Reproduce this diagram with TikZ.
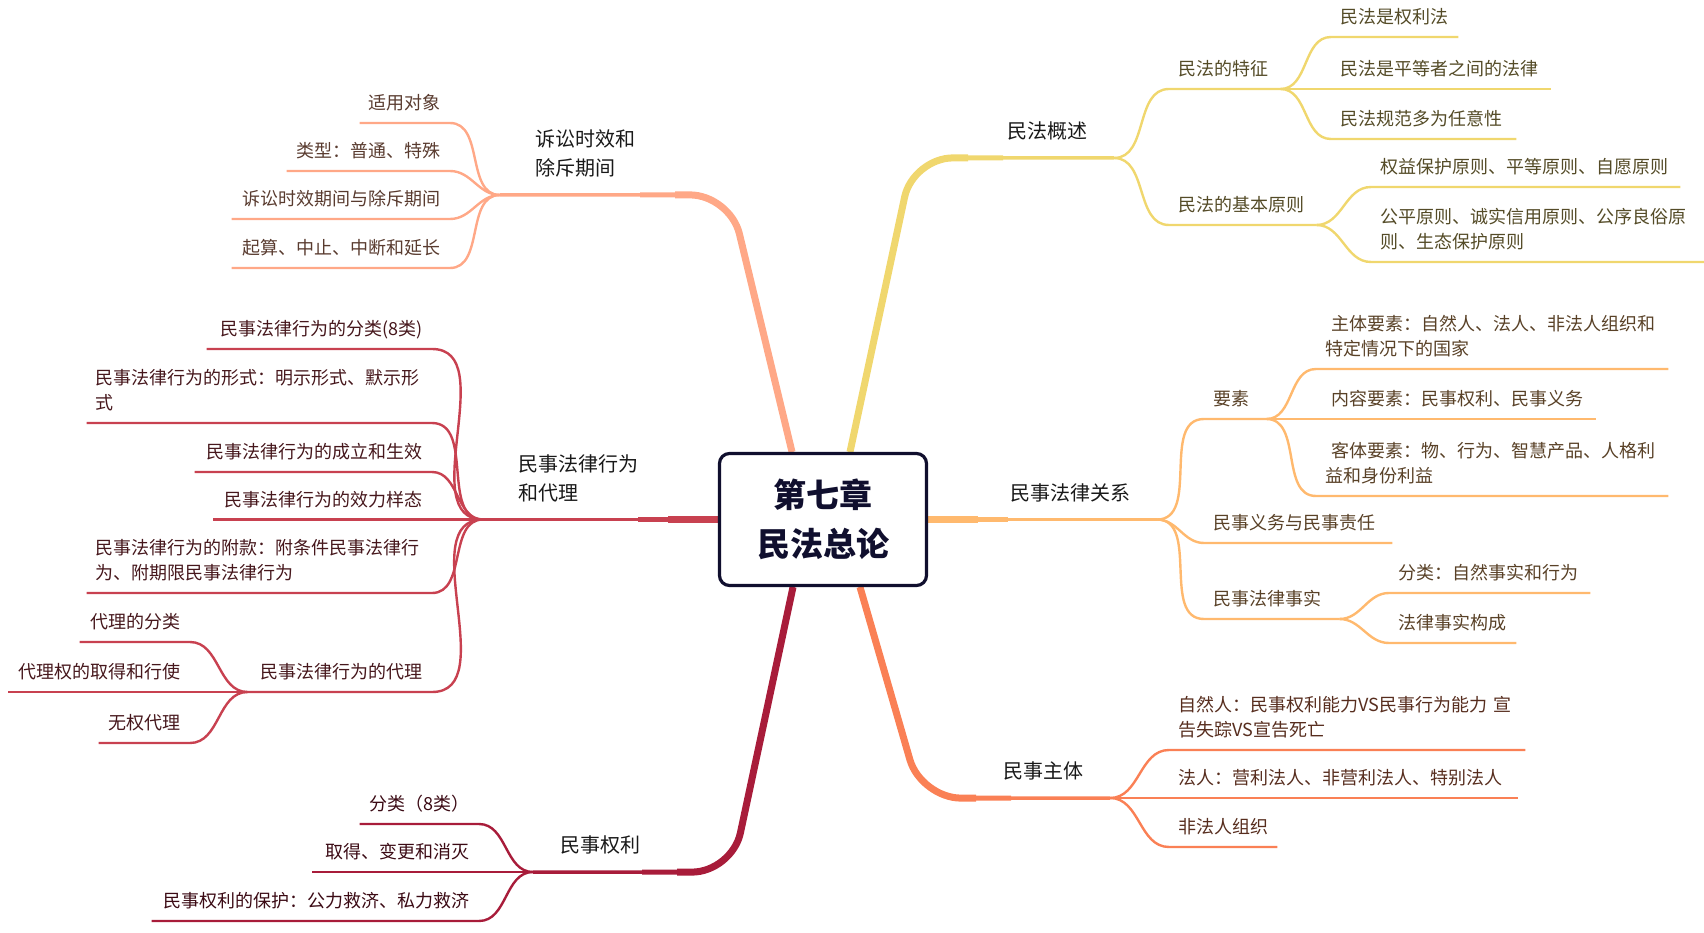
\documentclass[tikz,border=0pt]{standalone}
\usepackage{fontspec}
\setmainfont{Noto Sans CJK SC}
\usetikzlibrary{backgrounds}
\definecolor{rootc}{HTML}{100F2E}
\definecolor{brY}{HTML}{F0D76E}
\definecolor{brO}{HTML}{FFB96E}
\definecolor{brC}{HTML}{FA8055}
\definecolor{brS}{HTML}{FFA887}
\definecolor{brR}{HTML}{C84150}
\definecolor{brM}{HTML}{A81C3A}
\newcommand\dstrut{\vrule width 0pt height 12pt depth 6pt}

\begin{document}
\begin{tikzpicture}[x=1pt,y=-1pt,
    hub/.style={draw=rootc,line width=3.2pt,rounded corners=10pt,fill=white,text=rootc,
                minimum width=207pt,minimum height=132pt,align=center,
                font=\fontsize{33}{49}\selectfont\bfseries},
    lvr/.style={anchor=south east,inner xsep=26pt,inner ysep=13pt,align=right,
                font=\fontsize{20}{29}\selectfont,text=black!90,execute at end node=\dstrut},
    lvl/.style={lvr,anchor=south west,inner xsep=35pt,align=left},
    lfr/.style={anchor=south west,inner xsep=9pt,inner ysep=7pt,align=left,text=#1!35!black,
                font=\fontsize{18}{25}\selectfont,execute at end node=\dstrut},
    lfl/.style={lfr=#1,anchor=south east,align=right},
    trunk/.style={draw=#1,line width=3.5pt,rounded corners=40pt},
    stem/.style={draw=#1,line width=7pt,rounded corners=40pt},
    midstem/.style={draw=#1,line width=5pt,rounded corners=40pt},
    twig/.style={draw=#1,line width=2.4pt}]
  \useasboundingbox (0,0) rectangle (1704,933);

  \node[hub] (root) at (823,519.5) {第七章\\民法总论};

  % main topics
  \node[lvr,text width=80pt]  (g1) at (1114,158)   {民法概述};
  \node[lvr,text width=120pt] (g2) at (1157,519.5) {民事法律关系};
  \node[lvr,text width=80pt]  (g3) at (1110,798)   {民事主体};
  \node[lvl,text width=100pt] (g4) at (500,195)    {诉讼时效和\\除斥期间};
  \node[lvl,text width=120pt] (g5) at (483,519.5)  {民事法律行为\\和代理};
  \node[lvl,text width=80pt,inner xsep=27pt] (g6) at (533,872) {民事权利};

  % 民法概述
  \node[lfr=brY,text width=93pt]  (a1)  at (1169,89)  {民法的特征};
  \node[lfr=brY,text width=109pt] (a11) at (1331,37)  {民法是权利法};
  \node[lfr=brY,text width=202pt] (a12) at (1331,89)  {民法是平等者之间的法律};
  \node[lfr=brY,text width=167pt] (a13) at (1331,139) {民法规范多为任意性};
  \node[lfr=brY,text width=129pt] (a2)  at (1169,225) {民法的基本原则};
  \node[lfr=brY,text width=291pt] (a21) at (1371,187) {权益保护原则、平等原则、自愿原则};
  \node[lfr=brY,text width=315pt] (a22) at (1371,262) {公平原则、诚实信用原则、公序良俗原\\则、生态保护原则};

  % 民事法律关系
  \node[lfr=brO,text width=44pt]  (b1)  at (1204,419) {要素};
  \node[lfr=brO,text width=334pt] (b11) at (1316,369) {\hspace*{6pt}主体要素：自然人、法人、非法人组织和\\特定情况下的国家};
  \node[lfr=brO,text width=262pt] (b12) at (1316,419) {\hspace*{6pt}内容要素：民事权利、民事义务};
  \node[lfr=brO,text width=334pt] (b13) at (1316,496) {\hspace*{6pt}客体要素：物、行为、智慧产品、人格利\\益和身份利益};
  \node[lfr=brO,text width=170pt] (b2)  at (1204,543) {民事义务与民事责任};
  \node[lfr=brO,text width=117pt] (b3)  at (1204,619) {民事法律事实};
  \node[lfr=brO,text width=183pt] (b31) at (1389,593) {分类：自然事实和行为};
  \node[lfr=brO,text width=109pt] (b32) at (1389,643) {法律事实构成};

  % 民事主体
  \node[lfr=brC,text width=338pt] (c1) at (1169,750) {自然人：民事权利能力VS民事行为能力~宣\\告失踪VS宣告死亡};
  \node[lfr=brC,text width=331pt] (c2) at (1169,798) {法人：营利法人、非营利法人、特别法人};
  \node[lfr=brC,text width=90pt]  (c3) at (1169,847) {非法人组织};

  % 诉讼时效和除斥期间
  \node[lfl=brS,text width=72pt]  (d1) at (450,123) {适用对象};
  \node[lfl=brS,text width=145pt] (d2) at (450,171) {类型：普通、特殊};
  \node[lfl=brS,text width=200pt] (d3) at (450,219) {诉讼时效期间与除斥期间};
  \node[lfl=brS,text width=200pt] (d4) at (450,268) {起算、中止、中断和延长};

  % 民事法律行为和代理
  \node[lfl=brR,text width=207pt] (e1) at (432,349) {民事法律行为的分类(8类)};
  \node[lfl=brR,text width=327pt,align=left] (e2) at (432,423) {民事法律行为的形式：明示形式、默示形\\式};
  \node[lfl=brR,text width=219pt] (e3) at (432,472)   {民事法律行为的成立和生效};
  \node[lfl=brR,text width=201pt] (e4) at (432,519.5) {民事法律行为的效力样态};
  \node[lfl=brR,text width=327pt,align=left] (e5) at (432,593) {民事法律行为的附款：附条件民事法律行\\为、附期限民事法律行为};
  \node[lfl=brR,text width=166pt] (e6)  at (432,692) {民事法律行为的代理};
  \node[lfl=brR,text width=92pt]  (e61) at (190,642) {代理的分类};
  \node[lfl=brR,text width=164pt] (e62) at (190,692) {代理权的取得和行使};
  \node[lfl=brR,text width=73pt]  (e63) at (190,743) {无权代理};

  % 民事权利
  \node[lfl=brM,text width=101pt] (f1) at (479,824) {分类（8类）};
  \node[lfl=brM,text width=149pt] (f2) at (479,872) {取得、变更和消灭};
  \node[lfl=brM,text width=309pt] (f3) at (479,921) {民事权利的保护：公力救济、私力救济};

  \begin{scope}[on background layer]
    % trunks from the chapter box
    \draw[trunk=brY]   ([xshift=27pt]root.north) -- ++(63,-294) -- (g1.south east);
    \draw[midstem=brY] ([xshift=27pt]root.north) -- ++(63,-294) -- ++(90,0);
    \draw[stem=brY]    ([xshift=27pt]root.north) -- ++(63,-294) -- ++(55,0);
    \draw[trunk=brO]   (root.east) -- (g2.south east);
    \draw[midstem=brO] (root.east) -- ++(80,0);
    \draw[stem=brO]    (root.east) -- ++(50,0);
    \draw[trunk=brC]   ([xshift=37pt]root.south) -- ++(61,211) -- (g3.south east);
    \draw[midstem=brC] ([xshift=37pt]root.south) -- ++(61,211) -- ++(90,0);
    \draw[stem=brC]    ([xshift=37pt]root.south) -- ++(61,211) -- ++(55,0);
    \draw[trunk=brS]   ([xshift=-31pt]root.north) -- ++(-62,-257) -- (g4.south west);
    \draw[midstem=brS] ([xshift=-31pt]root.north) -- ++(-62,-257) -- ++(-90,0);
    \draw[stem=brS]    ([xshift=-31pt]root.north) -- ++(-62,-257) -- ++(-55,0);
    \draw[trunk=brR]   (root.west) -- (g5.south west);
    \draw[midstem=brR] (root.west) -- ++(-80,0);
    \draw[stem=brR]    (root.west) -- ++(-50,0);
    \draw[trunk=brM]   ([xshift=-30pt]root.south) -- ++(-61,285) -- (g6.south west);
    \draw[midstem=brM] ([xshift=-30pt]root.south) -- ++(-61,285) -- ++(-90,0);
    \draw[stem=brM]    ([xshift=-30pt]root.south) -- ++(-61,285) -- ++(-55,0);

    % right side
    \draw[twig=brY] (g1.south east) to[out=0,in=180] (a1.south west) -- (a1.south east);
    \draw[twig=brY] (g1.south east) to[out=0,in=180] (a2.south west) -- (a2.south east);
    \draw[twig=brY] (a1.south east) to[out=0,in=180] (a11.south west) -- (a11.south east);
    \draw[twig=brY] (a1.south east) to[out=0,in=180] (a12.south west) -- (a12.south east);
    \draw[twig=brY] (a1.south east) to[out=0,in=180] (a13.south west) -- (a13.south east);
    \draw[twig=brY] (a2.south east) to[out=0,in=180] (a21.south west) -- (a21.south east);
    \draw[twig=brY] (a2.south east) to[out=0,in=180] (a22.south west) -- (a22.south east);
    \draw[twig=brO] (g2.south east) to[out=0,in=180] (b1.south west) -- (b1.south east);
    \draw[twig=brO] (g2.south east) to[out=0,in=180] (b2.south west) -- (b2.south east);
    \draw[twig=brO] (g2.south east) to[out=0,in=180] (b3.south west) -- (b3.south east);
    \draw[twig=brO] (b1.south east) to[out=0,in=180] (b11.south west) -- (b11.south east);
    \draw[twig=brO] (b1.south east) to[out=0,in=180] (b12.south west) -- (b12.south east);
    \draw[twig=brO] (b1.south east) to[out=0,in=180] (b13.south west) -- (b13.south east);
    \draw[twig=brO] (b3.south east) to[out=0,in=180] (b31.south west) -- (b31.south east);
    \draw[twig=brO] (b3.south east) to[out=0,in=180] (b32.south west) -- (b32.south east);
    \draw[twig=brC] (g3.south east) to[out=0,in=180] (c1.south west) -- (c1.south east);
    \draw[twig=brC] (g3.south east) to[out=0,in=180] (c2.south west) -- (c2.south east);
    \draw[twig=brC] (g3.south east) to[out=0,in=180] (c3.south west) -- (c3.south east);

    % left side
    \draw[twig=brS] (g4.south west) to[out=180,in=0] (d1.south east) -- (d1.south west);
    \draw[twig=brS] (g4.south west) to[out=180,in=0] (d2.south east) -- (d2.south west);
    \draw[twig=brS] (g4.south west) to[out=180,in=0] (d3.south east) -- (d3.south west);
    \draw[twig=brS] (g4.south west) to[out=180,in=0] (d4.south east) -- (d4.south west);
    \draw[twig=brR] (g5.south west) to[out=180,in=0] (e1.south east) -- (e1.south west);
    \draw[twig=brR] (g5.south west) to[out=180,in=0] (e2.south east) -- (e2.south west);
    \draw[twig=brR] (g5.south west) to[out=180,in=0] (e3.south east) -- (e3.south west);
    \draw[twig=brR] (g5.south west) to[out=180,in=0] (e4.south east) -- (e4.south west);
    \draw[twig=brR] (g5.south west) to[out=180,in=0] (e5.south east) -- (e5.south west);
    \draw[twig=brR] (g5.south west) to[out=180,in=0] (e6.south east) -- (e6.south west);
    \draw[twig=brR] (e6.south west) to[out=180,in=0] (e61.south east) -- (e61.south west);
    \draw[twig=brR] (e6.south west) to[out=180,in=0] (e62.south east) -- (e62.south west);
    \draw[twig=brR] (e6.south west) to[out=180,in=0] (e63.south east) -- (e63.south west);
    \draw[twig=brM] (g6.south west) to[out=180,in=0] (f1.south east) -- (f1.south west);
    \draw[twig=brM] (g6.south west) to[out=180,in=0] (f2.south east) -- (f2.south west);
    \draw[twig=brM] (g6.south west) to[out=180,in=0] (f3.south east) -- (f3.south west);
  \end{scope}
\end{tikzpicture}
\end{document}
